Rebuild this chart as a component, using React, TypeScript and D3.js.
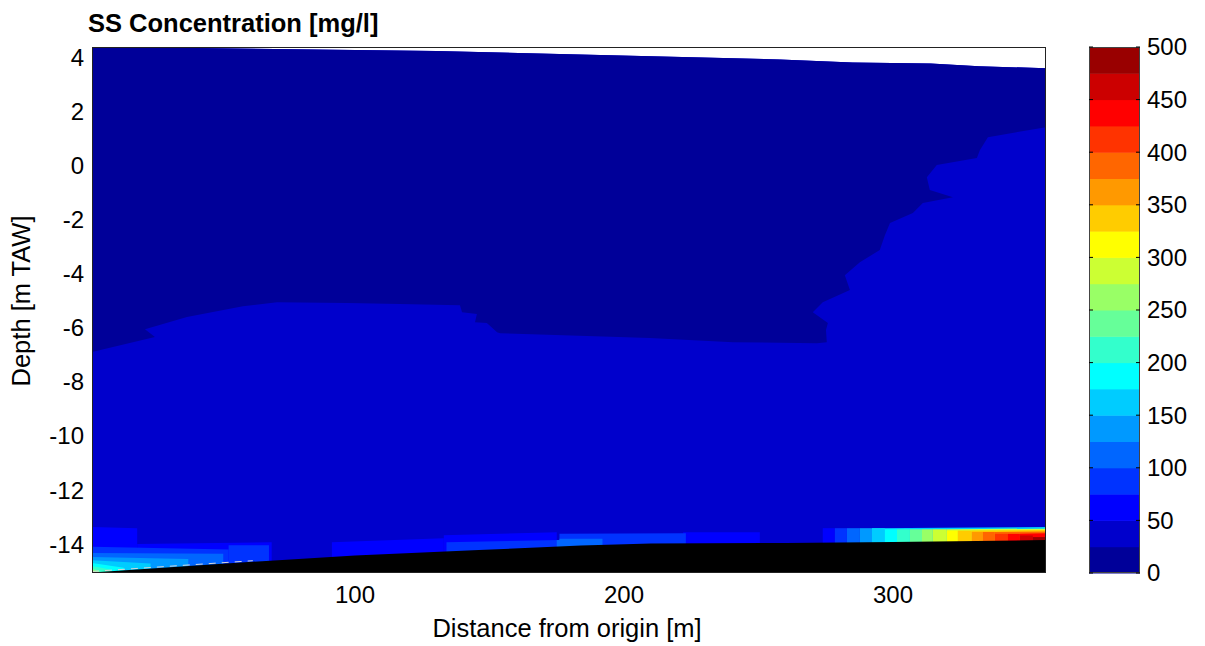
import React from "react";
import * as d3 from "d3";

// ---------- data ----------
const X_DOMAIN = [2.2, 356.9];
const Y_DOMAIN = [-15.07, 4.41];
const X_TICKS = [100, 200, 300];
const Y_TICKS = [4, 2, 0, -2, -4, -6, -8, -10, -12, -14];
const CBAR_TICKS = [0, 50, 100, 150, 200, 250, 300, 350, 400, 450, 500];
const CBAR_LEVELS = [0, 25, 50, 75, 100, 125, 150, 175, 200, 225, 250, 275, 300, 325, 350, 375, 400, 425, 450, 475, 500];

// water surface (m TAW)
const SURFACE_X = [2.2, 130, 258, 285, 314, 332, 356.9];
const SURFACE_DEPTH = [4.42, 4.26, 3.95, 3.84, 3.8, 3.7, 3.62];

// river bed (m TAW)
const BED_X = [2.2, 59, 100, 146, 184, 210, 260, 300, 356.9];
const BED_DEPTH = [-15.05, -14.67, -14.42, -14.22, -14.05, -13.98, -13.96, -13.92, -13.85];
const BED_GAP_END = 62; // contour does not reach the bed up to here

// 25 mg/l contour (between 0-25 and 25-50 classes)
const C25_X = [2.2, 25.6, 21.9, 37.5, 58.3, 71.0, 97.0, 116.7, 139.0, 139.8, 145.3, 144.6, 149.0, 152.8, 153.9, 209.6, 240.5, 271.7, 275.4, 275.1, 275.8, 270.2, 273.9, 284.0, 282.1, 287.7, 295.1, 297.0, 298.9, 307.4, 311.1, 322.3, 313.7, 312.6, 316.3, 331.2, 332.3, 335.3, 356.9];
const C25_DEPTH = [-6.89, -6.33, -6.04, -5.59, -5.19, -5.04, -5.07, -5.11, -5.15, -5.41, -5.48, -5.78, -5.81, -6.15, -6.19, -6.37, -6.52, -6.56, -6.52, -6.07, -5.81, -5.41, -5.04, -4.59, -4.04, -3.56, -3.11, -2.56, -2.11, -1.74, -1.37, -1.15, -0.89, -0.41, 0.04, 0.3, 0.59, 1.07, 1.44];
const UPPER_CONC = 12; // above the 25 mg/l contour
const LOWER_CONC = 37; // below it

// near-bed cells: x range, top depth at both ends, concentration (mg/l)
const CELL_X0 = [2.2, 19, 2.2, 53, 2.2, 2.2, 2.2, 2.2, 2.2, 2.2, 2.2, 91.4, 133, 134, 175, 176, 176, 222, 273.9, 278.4, 282.9, 287.7, 292.2, 292.2, 297, 301.5, 306.3, 310.8, 314.8, 320, 320, 324.1, 329.3, 329.3, 333.4, 337.9, 337.9, 342.7, 347.2, 347.2, 352];
const CELL_X1 = [19, 69, 53, 68, 51, 38, 24, 14, 9, 5, 3.5, 133, 175, 176, 184, 223, 192, 250.5, 278.4, 282.9, 287.7, 292.2, 297, 356.9, 301.5, 306.3, 310.8, 314.8, 320, 356.9, 324.1, 329.3, 356.9, 333.4, 337.9, 356.9, 342.7, 347.2, 356.9, 352, 356.9];
const CELL_TOP0 = [-13.37, -14.0, -14.1, -14.04, -14.33, -14.48, -14.6, -14.7, -14.81, -14.9, -14.96, -13.93, -13.67, -13.93, -13.85, -13.62, -13.8, -13.56, -13.41, -13.41, -13.41, -13.41, -13.41, -13.41, -13.45, -13.45, -13.45, -13.45, -13.45, -13.45, -13.5, -13.5, -13.5, -13.55, -13.55, -13.55, -13.62, -13.62, -13.62, -13.68, -13.74];
const CELL_TOP1 = [-13.41, -13.93, -14.2, -14.04, -14.36, -14.55, -14.72, -14.88, -14.94, -14.99, -15.0, -13.78, -13.56, -13.85, -13.85, -13.6, -13.8, -13.56, -13.41, -13.41, -13.41, -13.41, -13.41, -13.37, -13.45, -13.45, -13.45, -13.45, -13.45, -13.43, -13.5, -13.5, -13.48, -13.55, -13.55, -13.53, -13.62, -13.62, -13.6, -13.68, -13.74];
const CELL_CONC = [60, 60, 85, 85, 110, 135, 160, 185, 210, 235, 260, 60, 60, 85, 110, 85, 110, 60, 60, 85, 110, 135, 160, 160, 185, 210, 235, 260, 285, 285, 310, 335, 335, 360, 385, 385, 410, 435, 435, 460, 485];

// ---------- styles ----------
const JET20 = ["#000099", "#0000cc", "#0000ff", "#0033ff", "#0066ff", "#0099ff", "#00ccff", "#00ffff", "#33ffcc", "#66ff99", "#99ff66", "#ccff33", "#ffff00", "#ffcc00", "#ff9900", "#ff6600", "#ff3300", "#ff0000", "#cc0000", "#990000"];
const FONT = "'Liberation Sans', Arial, Helvetica, sans-serif";
const PLOT = { left: 92, right: 1046, top: 47, bottom: 573 };
const CBAR = { left: 1089, right: 1140 };
const TICK_FS = 24;
const LABEL_FS = 25.5;

export default function App() {
  const x = d3.scaleLinear().domain(X_DOMAIN).range([PLOT.left, PLOT.right]);
  const y = d3.scaleLinear().domain(Y_DOMAIN).range([PLOT.bottom, PLOT.top]);
  const color = d3.scaleThreshold<number, string>().domain(CBAR_LEVELS.slice(1, -1)).range(JET20);
  const cy = d3.scaleLinear().domain([0, 500]).range([PLOT.bottom, PLOT.top]);
  const bedAt = d3.scaleLinear().domain(BED_X).range(BED_DEPTH);

  const poly = d3.line<[number, number]>().x((d) => x(d[0])).y((d) => y(d[1]));
  const closed = (pts: [number, number][]) => poly(pts) + "Z";

  const [x0, x1] = X_DOMAIN;
  const yb = Y_DOMAIN[0];
  const surface: [number, number][] = SURFACE_X.map((v, i) => [v, SURFACE_DEPTH[i]]);
  const bed: [number, number][] = BED_X.map((v, i) => [v, BED_DEPTH[i]]);
  const c25: [number, number][] = C25_X.map((v, i) => [v, C25_DEPTH[i]]);

  const water = closed([...surface, [x1, yb], [x0, yb]]);
  const upper = closed([...surface, ...c25.slice().reverse()]);
  const bedPath = closed([...bed, [x1, yb - 1], [x0, yb - 1]]);
  const gapLine = d3
    .line<number>()
    .x((d) => x(d))
    .y((d) => y(bedAt(d)) - 1)([x0, 20, 40, BED_GAP_END]);

  const cells = CELL_X0.map((v, i) => ({
    i,
    conc: CELL_CONC[i],
    d: closed([[v, CELL_TOP0[i]], [CELL_X1[i], CELL_TOP1[i]], [CELL_X1[i], yb], [v, yb]]),
  })).sort((a, b) => a.conc - b.conc || a.i - b.i);

  return (
    <svg width={1205} height={646} style={{ position: "absolute", left: 0, top: 0, background: "#fff" }} fontFamily={FONT}>
      <defs>
        <clipPath id="plotclip">
          <rect x={PLOT.left} y={PLOT.top} width={PLOT.right - PLOT.left} height={PLOT.bottom - PLOT.top} />
        </clipPath>
      </defs>
      <text x={88} y={32} fontSize={LABEL_FS} fontWeight="bold" fill="#000">SS Concentration [mg/l]</text>

      <g clipPath="url(#plotclip)">
        <rect x={PLOT.left} y={PLOT.top} width={PLOT.right - PLOT.left} height={PLOT.bottom - PLOT.top} fill="#fff" />
        <path d={water} fill={color(LOWER_CONC)} />
        <path d={upper} fill={color(UPPER_CONC)} />
        {cells.map((c) => (
          <path key={c.i} d={c.d} fill={color(c.conc)} />
        ))}
        <path d={bedPath} fill="#000" />
        <path d={gapLine || ""} fill="none" stroke="#d8d8d8" strokeWidth={1} strokeDasharray="7 6" />
      </g>
      <rect x={PLOT.left + 0.5} y={PLOT.top + 0.5} width={PLOT.right - PLOT.left - 1} height={PLOT.bottom - PLOT.top - 1} fill="none" stroke="#222" strokeWidth={1} />

      {Y_TICKS.map((t) => (
        <text key={t} x={84} y={y(t)} dy="0.35em" textAnchor="end" fontSize={TICK_FS} fill="#000">{t}</text>
      ))}
      {X_TICKS.map((t) => (
        <text key={t} x={x(t)} y={603} textAnchor="middle" fontSize={TICK_FS} fill="#000">{t}</text>
      ))}
      <text x={567} y={637} textAnchor="middle" fontSize={LABEL_FS} fill="#000">Distance from origin [m]</text>
      <text transform={`translate(30,${301}) rotate(-90)`} textAnchor="middle" fontSize={LABEL_FS} fill="#000">Depth [m TAW]</text>

      {CBAR_LEVELS.slice(0, -1).map((lv, i) => (
        <rect key={lv} x={CBAR.left} y={cy(CBAR_LEVELS[i + 1])} width={CBAR.right - CBAR.left} height={cy(lv) - cy(CBAR_LEVELS[i + 1]) + 0.5} fill={JET20[i]} />
      ))}
      <rect x={CBAR.left + 0.5} y={PLOT.top + 0.5} width={CBAR.right - CBAR.left - 1} height={PLOT.bottom - PLOT.top - 1} fill="none" stroke="#444" />
      {CBAR_TICKS.map((t) => (
        <g key={t}>
          <line x1={CBAR.left} x2={CBAR.left + 4} y1={cy(t)} y2={cy(t)} stroke="#000" />
          <line x1={CBAR.right - 4} x2={CBAR.right} y1={cy(t)} y2={cy(t)} stroke="#000" />
          <text x={1147} y={cy(t)} dy="0.35em" fontSize={TICK_FS} fill="#000">{t}</text>
        </g>
      ))}
    </svg>
  );
}
